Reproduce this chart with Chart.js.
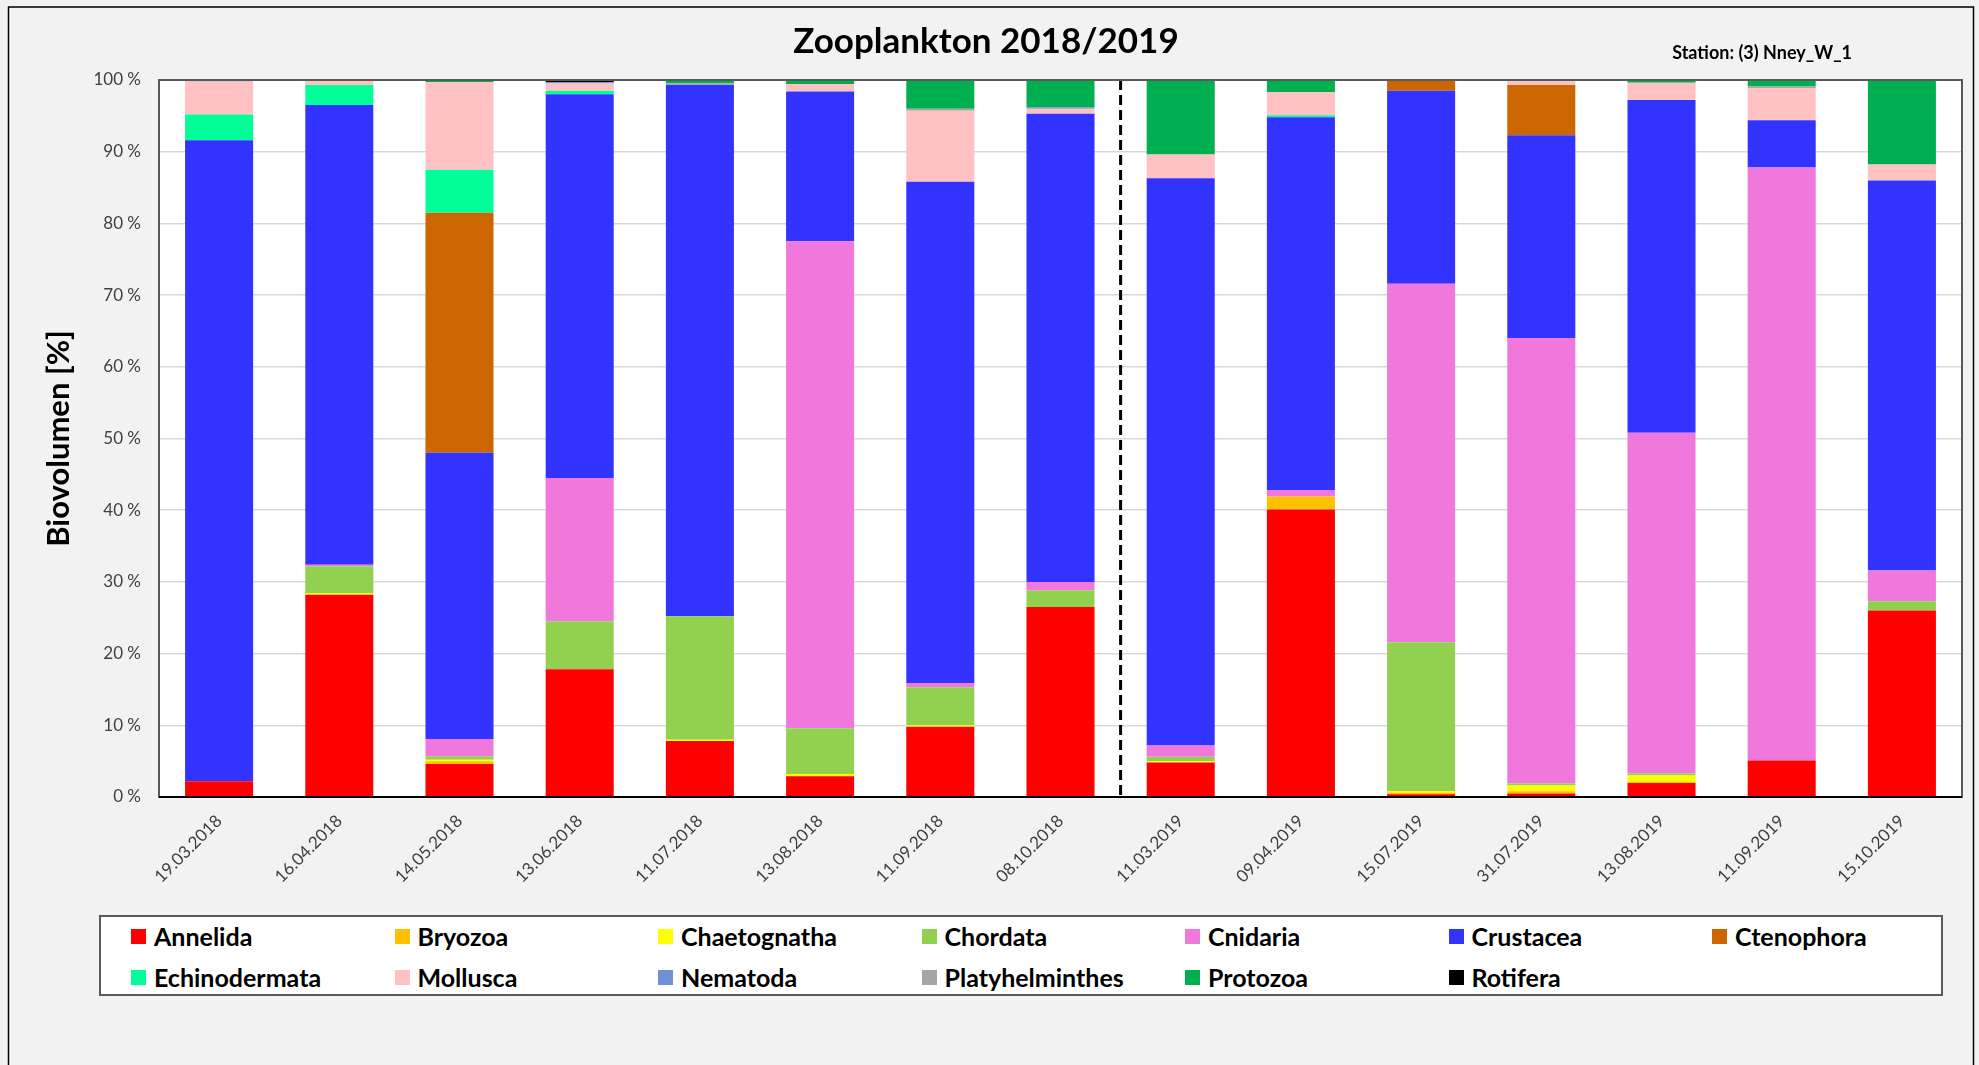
<!DOCTYPE html>
<html>
<head>
<meta charset="utf-8">
<script src="https://cdn.jsdelivr.net/npm/chart.js@4.4.1/dist/chart.umd.min.js"></script>
<style>
  html, body { margin: 0; padding: 0; background: #f2f2f2; }
  #wrap { position: relative; width: 1979px; height: 1065px; overflow: hidden; }
  #zooChart { position: absolute; left: 0; top: 0; }
  #legend {
    position: absolute; left: 99px; top: 915px; width: 1840px; height: 77px;
    background: #fff; border: 2px solid #595959; font-family: Lato, sans-serif;
  }
  .item { position: absolute; display: flex; align-items: center; font-weight: bold; font-size: 25px; color: #000; }
  .item span.box { width: 15px; height: 15px; margin-right: 8px; display: inline-block; }
</style>
</head>
<body>
<div id="wrap">
  <canvas id="zooChart" width="1979" height="1065"></canvas>
  <div id="legend"></div>
</div>
<script>
const chartTitle = 'Zooplankton 2018/2019';
const stationLabel = 'Station: (3) Nney_W_1';
const yTitle = 'Biovolumen [%]';

const dates = ['19.03.2018', '16.04.2018', '14.05.2018', '13.06.2018', '11.07.2018', '13.08.2018', '11.09.2018', '08.10.2018',
               '11.03.2019', '09.04.2019', '15.07.2019', '31.07.2019', '13.08.2019', '11.09.2019', '15.10.2019'];

// percentage of biovolume per taxon, per sampling date
const annelida        = [2.2, 28.2, 4.6, 17.8, 7.8, 2.9, 9.8, 26.5, 4.8, 40.1, 0.4, 0.5, 2.0, 5.1, 26.0];
const bryozoa         = [0, 0, 0.4, 0, 0, 0, 0, 0, 0, 1.8, 0.2, 0.3, 0, 0, 0];
const chaetognatha    = [0, 0.2, 0.2, 0, 0.2, 0.3, 0.2, 0, 0.2, 0, 0.2, 0.8, 1.0, 0, 0];
const chordata        = [0, 3.8, 0.5, 6.7, 17.2, 6.4, 5.3, 2.3, 0.6, 0, 20.8, 0.3, 0.3, 0, 1.3];
const cnidaria        = [0, 0.2, 2.4, 20.0, 0, 67.9, 0.6, 1.2, 1.6, 0.9, 50.0, 62.1, 47.5, 82.7, 4.3];
const crustacea       = [89.4, 64.1, 39.9, 53.5, 74.1, 20.9, 69.9, 65.3, 79.1, 52.0, 26.9, 28.3, 46.4, 6.6, 54.4];
const ctenophora      = [0, 0, 33.5, 0, 0, 0, 0, 0, 0, 0, 1.5, 7.0, 0, 0, 0];
const echinodermata   = [3.6, 2.8, 6.0, 0.5, 0, 0, 0, 0, 0, 0.3, 0, 0, 0, 0, 0];
const mollusca        = [4.6, 0.7, 12.2, 1.0, 0, 1.0, 9.9, 0.7, 3.3, 3.2, 0, 0.5, 2.4, 4.5, 2.2];
const nematoda        = [0.2, 0, 0, 0.2, 0, 0, 0, 0.2, 0, 0, 0, 0, 0, 0, 0];
const platyhelminthes = [0, 0, 0, 0, 0.2, 0, 0.3, 0, 0, 0, 0, 0.2, 0, 0.2, 0];
const protozoa        = [0, 0, 0.3, 0, 0.5, 0.6, 4.0, 3.8, 10.4, 1.7, 0, 0, 0.4, 0.9, 11.8];
const rotifera        = [0, 0, 0, 0.3, 0, 0, 0, 0, 0, 0, 0, 0, 0, 0, 0];

const taxa = [
  ['Annelida', annelida, '#ff0000'],
  ['Bryozoa', bryozoa, '#ffc000'],
  ['Chaetognatha', chaetognatha, '#ffff00'],
  ['Chordata', chordata, '#92d050'],
  ['Cnidaria', cnidaria, '#f078dc'],
  ['Crustacea', crustacea, '#3333ff'],
  ['Ctenophora', ctenophora, '#cc6600'],
  ['Echinodermata', echinodermata, '#00ff99'],
  ['Mollusca', mollusca, '#ffc1c1'],
  ['Nematoda', nematoda, '#7092d4'],
  ['Platyhelminthes', platyhelminthes, '#a6a6a6'],
  ['Protozoa', protozoa, '#00b050'],
  ['Rotifera', rotifera, '#000000']
];

const yTicks = [0, 10, 20, 30, 40, 50, 60, 70, 80, 90, 100];
const splitAfter = 7; // dashed line between 2018 and 2019 samples

const frame = {
  id: 'frame',
  beforeDraw(chart) {
    const ctx = chart.ctx, a = chart.chartArea;
    ctx.save();
    ctx.fillStyle = '#f2f2f2';
    ctx.fillRect(0, 0, chart.width, chart.height);
    ctx.strokeStyle = '#000';
    ctx.lineWidth = 1.5;
    ctx.strokeRect(8.5, 7, 1965, 1100);
    ctx.fillStyle = '#fff';
    ctx.fillRect(a.left, a.top, a.right - a.left, a.bottom - a.top);
    ctx.font = 'bold 18px Lato';
    ctx.fillStyle = '#000';
    ctx.textAlign = 'right';
    ctx.textBaseline = 'middle';
    ctx.fillText(stationLabel, 1852, 53);
    ctx.restore();
  },
  afterDraw(chart) {
    const ctx = chart.ctx, a = chart.chartArea, x = chart.scales.x;
    ctx.save();
    const xs = (x.getPixelForValue(splitAfter) + x.getPixelForValue(splitAfter + 1)) / 2;
    ctx.strokeStyle = '#000';
    ctx.lineWidth = 3;
    ctx.setLineDash([10, 5]);
    ctx.beginPath();
    ctx.moveTo(xs, a.top);
    ctx.lineTo(xs, a.bottom);
    ctx.stroke();
    ctx.setLineDash([]);
    ctx.strokeStyle = '#595959';
    ctx.lineWidth = 2;
    ctx.strokeRect(a.left, a.top, a.right - a.left, a.bottom - a.top);
    ctx.strokeStyle = '#000';
    ctx.beginPath();
    ctx.moveTo(a.left, a.bottom);
    ctx.lineTo(a.right, a.bottom);
    ctx.stroke();
    ctx.restore();
  }
};

const chart = new Chart(document.getElementById('zooChart'), {
  type: 'bar',
  data: {
    labels: dates,
    datasets: taxa.map(t => ({
      label: t[0],
      data: t[1],
      backgroundColor: t[2],
      borderWidth: 0,
      barPercentage: 0.566,
      categoryPercentage: 1
    }))
  },
  options: {
    responsive: false,
    animation: false,
    layout: { padding: { left: 10, right: 17, top: 0, bottom: 0 } },
    plugins: {
      legend: { display: false },
      tooltip: { enabled: false },
      title: {
        display: true,
        text: chartTitle,
        color: '#000',
        font: { family: 'Lato', size: 35, weight: 'bold' },
        padding: { top: 21, bottom: 17 }
      }
    },
    scales: {
      x: {
        stacked: true,
        grid: { display: false, drawTicks: false },
        border: { display: false },
        ticks: {
          minRotation: 45, maxRotation: 45, padding: 14,
          color: '#404040', font: { family: 'Lato', size: 17 }
        },
        afterFit(scale) { scale.height = 268; }
      },
      y: {
        stacked: true,
        min: 0, max: 100,
        afterBuildTicks(scale) { scale.ticks = yTicks.map(v => ({ value: v })); },
        grid: { color: '#d9d9d9', lineWidth: 1.5, drawTicks: false },
        border: { display: false },
        ticks: {
          padding: 18,
          color: '#404040',
          font: { family: 'Lato', size: 17 },
          callback: v => v + ' %'
        },
        title: {
          display: true,
          text: yTitle,
          color: '#000',
          font: { family: 'Lato', size: 31, weight: 'bold' },
          padding: { top: 30, bottom: 0 }
        },
        afterFit(scale) { scale.width = 149; }
      }
    }
  },
  plugins: [frame]
});

// legend in 7 columns, built from the chart's datasets
const legendEl = document.getElementById('legend');
chart.data.datasets.forEach((ds, i) => {
  const el = document.createElement('div');
  el.className = 'item';
  el.style.left = (30 + (i % 7) * 263.5) + 'px';
  el.style.top = (i < 7 ? 4 : 45) + 'px';
  el.style.height = '30px';
  el.innerHTML = '<span class="box" style="background:' + ds.backgroundColor + '"></span>' + ds.label;
  legendEl.appendChild(el);
});
</script>
</body>
</html>
